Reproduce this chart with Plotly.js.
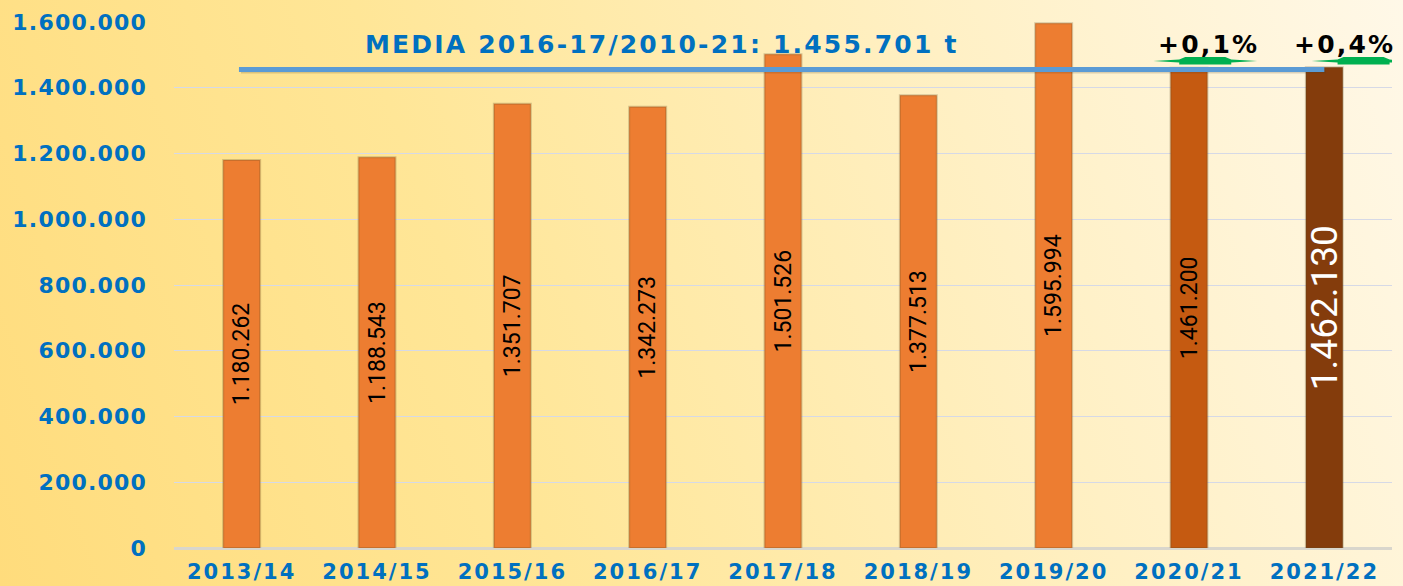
<!DOCTYPE html>
<html>
<head>
<meta charset="utf-8">
<script src="https://cdn.plot.ly/plotly-3.0.1.min.js"></script>
<style>
  html, body { margin: 0; padding: 0; }
  #wrap { width: 1403px; height: 586px;
    background: linear-gradient(70deg, #FFDC7C 0%, #FFE697 35%, #FFF0C4 70%, #FFF8E8 100%); }
  .xtick text { letter-spacing: 2px; }
  .ytick text { letter-spacing: 1.2px; }
  .annotation-text { letter-spacing: 2.2px; }
</style>
</head>
<body>
<div id="wrap"><div id="chart"></div></div>
<script>
// ---- data ----
const campaigns = ["2013/14","2014/15","2015/16","2016/17","2017/18","2018/19","2019/20","2020/21","2021/22"];
const production = [1180262, 1188543, 1351707, 1342273, 1501526, 1377513, 1595994, 1461200, 1462130];
const meanValue = 1455701;
const meanLabel = "MEDIA 2016-17/2010-21: 1.455.701 t";
const changeLabels = ["+0,1%", "+0,4%"];
const changeCampaigns = ["2020/21", "2021/22"];

// ---- styles ----
const barColors = ["#ED7D31","#ED7D31","#ED7D31","#ED7D31","#ED7D31","#ED7D31","#ED7D31","#C55A11","#843C0C"];
const labelColors = ["#000","#000","#000","#000","#000","#000","#000","#000","#fff"];
const labelSizes = [23,23,23,23,23,23,23,23,37];

function fmt(v){ return String(v).replace(/\B(?=(\d{3})+(?!\d))/g, "."); }

const trace = {
  type: "bar",
  x: campaigns,
  y: production,
  marker: { color: barColors, line: { color: "rgba(90,70,30,0.25)", width: 2 } },
  text: production.map(fmt),
  textposition: "inside",
  insidetextanchor: "middle",
  textangle: -90,
  constraintext: "none",
  textfont: { family: "Roboto, sans-serif", color: labelColors, size: labelSizes },
  hoverinfo: "x+y"
};

const yTickFont = { family: "'DejaVu Sans', sans-serif", size: 22, color: "#0070C0", weight: "bold" };
const xTickFont = { family: "'DejaVu Sans', sans-serif", size: 21, color: "#0070C0", weight: "bold" };

const arrowPath = "M -52,0 L -26,1.5 L -20,4 L 20,4 L 26,1.5 L 52,0 L 26,-1.5 L 26,-3.5 L -26,-3.5 L -26,-1.5 Z";

const layout = {
  width: 1403, height: 586,
  margin: { l: 174, r: 11, t: 22, b: 38, pad: 0 },
  paper_bgcolor: "rgba(0,0,0,0)",
  plot_bgcolor: "rgba(0,0,0,0)",
  separators: ",.",
  showlegend: false,
  bargap: 0.727,
  xaxis: {
    type: "category", range: [-0.5, 8.5], showgrid: false, ticks: "",
    tickfont: xTickFont, ticklabelstandoff: 9, showline: false, zeroline: false
  },
  yaxis: {
    range: [0, 1600000], dtick: 200000, tickformat: ",d",
    gridcolor: "#D6D9E6", gridwidth: 1,
    zeroline: true, zerolinecolor: "#D9D6CC", zerolinewidth: 3,
    tickfont: yTickFont, ticklabelstandoff: 26, ticks: ""
  },
  shapes: [
    { type: "line", xref: "x", yref: "y", x0: -0.005, x1: 8.01, y0: meanValue - 4500, y1: meanValue - 4500,
      line: { color: "rgba(70,60,40,0.2)", width: 5 } },
    { type: "line", xref: "x", yref: "y", x0: -0.02, x1: 8.0, y0: meanValue, y1: meanValue,
      line: { color: "#5B9BD5", width: 5 } },
    { type: "path", xref: "x", yref: "y", xsizemode: "pixel", ysizemode: "pixel",
      xanchor: 7.12, yanchor: 1481000, path: arrowPath,
      fillcolor: "#00B050", line: { width: 0 } },
    { type: "path", xref: "x", yref: "y", xsizemode: "pixel", ysizemode: "pixel",
      xanchor: 8.29, yanchor: 1481000, path: arrowPath,
      fillcolor: "#00B050", line: { width: 0 } }
  ],
  annotations: [
    { xref: "paper", yref: "y", x: (662 - 174) / 1218, y: 1533000, text: meanLabel, showarrow: false,
      xanchor: "center", yanchor: "middle",
      font: { family: "'DejaVu Sans', sans-serif", size: 25, color: "#0070C0", weight: "bold" } },
    { xref: "x", yref: "y", x: changeCampaigns[0], xshift: 19, y: 1533000, text: changeLabels[0], showarrow: false,
      xanchor: "center", yanchor: "middle",
      font: { family: "'DejaVu Sans', sans-serif", size: 25, color: "#000", weight: "bold" } },
    { xref: "x", yref: "y", x: changeCampaigns[1], xshift: 20, y: 1533000, text: changeLabels[1], showarrow: false,
      xanchor: "center", yanchor: "middle",
      font: { family: "'DejaVu Sans', sans-serif", size: 25, color: "#000", weight: "bold" } }
  ]
};

Plotly.newPlot("chart", [trace], layout, { displayModeBar: false, staticPlot: true });
</script>
</body>
</html>
